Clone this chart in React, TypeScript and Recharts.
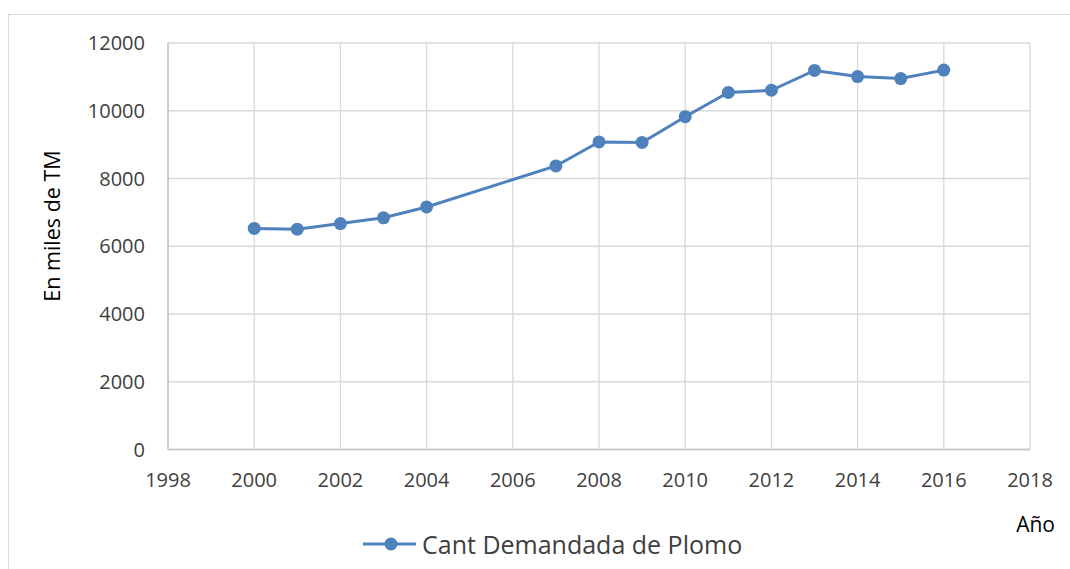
import { LineChart, Line, XAxis, YAxis, CartesianGrid, Legend } from 'recharts';

const years = [2000, 2001, 2002, 2003, 2004, 2007, 2008, 2009, 2010, 2011, 2012, 2013, 2014, 2015, 2016];
const demanda = [6527, 6505, 6670, 6840, 7160, 8370, 9080, 9065, 9825, 10540, 10605, 11190, 11010, 10950, 11200];
const xTicks = [1998, 2000, 2002, 2004, 2006, 2008, 2010, 2012, 2014, 2016, 2018];
const yTicks = [0, 2000, 4000, 6000, 8000, 10000, 12000];

const seriesName = 'Cant Demandada de Plomo';

const data = years.map((year, i) => ({ year, value: demanda[i] }));

const font = '"Open Sans", sans-serif';
const blue = '#4f81bd';

const renderLegend = () => (
  <div style={{ display: 'flex', alignItems: 'center', fontFamily: font, fontSize: 25, color: '#404040' }}>
    <svg width={56} height={20} style={{ marginRight: 3 }}>
      <line x1={0} y1={10} x2={53} y2={10} stroke={blue} strokeWidth={3} />
      <circle cx={28} cy={10} r={6.5} fill={blue} />
    </svg>
    <span>{seriesName}</span>
  </div>
);

export default function App() {
  return (
    <div style={{ position: 'absolute', left: 0, top: 0, width: 1070, height: 569, background: '#fff' }}>
      <div
        style={{
          position: 'absolute',
          left: 8,
          top: 14,
          width: 1070,
          height: 569,
          borderLeft: '1.5px solid #d9d9d9',
          borderTop: '1.5px solid #d9d9d9',
        }}
      />
      <LineChart
        width={1070}
        height={569}
        data={data}
        margin={{ top: 43, right: 40, left: 108, bottom: 79.5 }}
        style={{ position: 'absolute', left: 0, top: 0 }}
      >
        <CartesianGrid stroke="#d9d9d9" strokeWidth={1.3} />
        <XAxis
          dataKey="year"
          type="number"
          domain={[1998, 2018]}
          ticks={xTicks}
          height={40}
          tickLine={false}
          tickSize={0}
          tickMargin={23}
          axisLine={{ stroke: '#c6c6c6', strokeWidth: 1.5 }}
          tick={{ fill: '#404040', fontSize: 20, fontFamily: font }}
          label={{
            content: () => (
              <text x={1055} y={532} textAnchor="end" fontFamily={font} fontSize={21} fill="#000">
                Año
              </text>
            ),
          }}
        />
        <YAxis
          type="number"
          domain={[0, 12000]}
          ticks={yTicks}
          width={60}
          tickLine={false}
          tickSize={0}
          tickMargin={23}
          axisLine={{ stroke: '#c6c6c6', strokeWidth: 1.5 }}
          tick={{ fill: '#404040', fontSize: 20, fontFamily: font }}
          label={{
            content: () => (
              <text
                x={60}
                y={226}
                transform="rotate(-90 60 226)"
                textAnchor="middle"
                fontFamily={font}
                fontSize={21.5}
                fill="#000"
              >
                En miles de TM
              </text>
            ),
          }}
        />
        <Legend
          verticalAlign="middle"
          align="center"
          layout="horizontal"
          content={renderLegend}
          wrapperStyle={{ top: 527, left: 363, width: 430, height: 36 }}
        />
        <Line
          dataKey="value"
          name={seriesName}
          stroke={blue}
          strokeWidth={3}
          dot={{ r: 6.5, fill: blue, stroke: blue, strokeWidth: 0 }}
          activeDot={false}
          isAnimationActive={false}
        />
      </LineChart>
    </div>
  );
}
